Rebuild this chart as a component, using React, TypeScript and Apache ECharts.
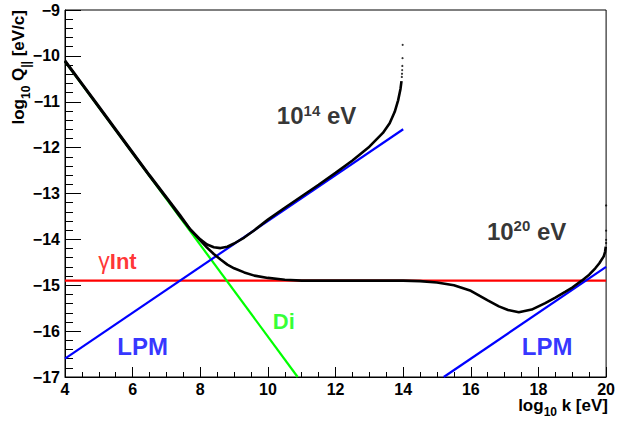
import React, { useEffect, useRef } from 'react';
import * as echarts from 'echarts';

// Axis ranges
const xMin = 4;
const xMax = 20;
const xStep = 2;
const yMin = -17;
const yMax = -9;
const yStep = 1;

// gamma interaction level (red)
const gammaInt: [number, number][] = [[4, -14.9], [20, -14.9]];
// dielectric suppression (green)
const dielectric: [number, number][] = [[4, -10.12], [10.88, -17]];
// LPM lines (blue)
const lpm14: [number, number][] = [[4, -16.6], [14, -11.6]];
const lpm20: [number, number][] = [[15.2, -17], [20, -14.6]];

// total curve, 10^14 eV
const curve14: [number, number][] = [
  [4.0, -10.1], [4.5, -10.6], [5.0, -11.1], [5.5, -11.6], [6.0, -12.1], [6.5, -12.6],
  [7.0, -13.08], [7.4, -13.47], [7.7, -13.78], [8.0, -14.0], [8.2, -14.11], [8.4, -14.17],
  [8.6, -14.19], [8.8, -14.16], [9.0, -14.09], [9.3, -13.96], [9.6, -13.8], [10.0, -13.57],
  [10.5, -13.31], [11.0, -13.06], [11.5, -12.81], [12.0, -12.55], [12.5, -12.28], [13.0, -11.98],
  [13.4, -11.68], [13.6, -11.47], [13.75, -11.22], [13.85, -10.97], [13.92, -10.72], [13.95, -10.55],
];
const dots14: [number, number][] = [
  [13.96, -10.46], [13.965, -10.39], [13.97, -10.31], [13.975, -10.22], [13.98, -10.05], [13.985, -9.76],
];

// total curve, 10^20 eV
const curve20: [number, number][] = [
  [4.0, -10.12], [4.5, -10.62], [5.0, -11.12], [5.5, -11.62], [6.0, -12.12], [6.5, -12.62],
  [7.0, -13.1], [7.4, -13.5], [7.7, -13.78], [8.0, -14.02], [8.2, -14.18], [8.4, -14.32],
  [8.6, -14.44], [8.8, -14.55], [9.0, -14.63], [9.3, -14.72], [9.6, -14.79], [10.0, -14.84],
  [10.5, -14.88], [11.0, -14.9], [12.0, -14.9], [13.0, -14.9], [14.0, -14.9], [14.5, -14.91],
  [15.0, -14.94], [15.5, -15.0], [16.0, -15.12], [16.5, -15.33], [16.83, -15.46], [17.1, -15.54],
  [17.42, -15.59], [17.8, -15.53], [18.2, -15.39], [18.5, -15.27], [18.8, -15.14], [19.0, -15.05],
  [19.28, -14.9], [19.5, -14.77], [19.68, -14.63], [19.8, -14.52], [19.93, -14.37], [19.97, -14.27],
  [19.99, -14.16],
];
const dots20: [number, number][] = [[20.0, -14.08], [20.0, -14.01], [20.0, -13.81], [20.0, -13.26]];

// annotation anchors (left edge, vertical middle) in data coordinates
const label14At: [number, number] = [10.25, -11.31];
const label20At: [number, number] = [16.46, -13.82];
const gammaLabelAt: [number, number] = [4.97, -14.48];
const diLabelAt: [number, number] = [10.13, -15.8];
const lpmLabel1At: [number, number] = [5.53, -16.34];
const lpmLabel2At: [number, number] = [17.49, -16.34];

const energy14 = { base: '10', power: '14', unit: 'eV' };
const energy20 = { base: '10', power: '20', unit: 'eV' };
const gammaText = { sym: 'γ', rest: 'Int' };
const diText = 'Di';
const lpmText = 'LPM';

const xTitle = { a: 'log', sub: '10', b: ' k [eV]' };
const yTitle = { a: 'log', sub: '10', b: ' Q', sub2: '||', c: ' [eV/c]' };

export default function App() {
  const ref = useRef<HTMLDivElement>(null);

  useEffect(() => {
    if (!ref.current) return;
    const chart = echarts.init(ref.current, null, { renderer: 'svg' });
    const font = "'Liberation Sans', Arial, Helvetica, sans-serif";
    const minus = (v: number) => String(v).replace('-', '\u2212');

    const line = (name: string, data: [number, number][], color: string, width: number, z: number) => ({
      type: 'line',
      name,
      data,
      symbol: 'none',
      showSymbol: false,
      lineStyle: { color, width },
      itemStyle: { color },
      z,
      silent: true,
    });

    const dots = (name: string, data: [number, number][]) => ({
      type: 'scatter',
      name,
      data,
      symbol: 'circle',
      symbolSize: 2.2,
      itemStyle: { color: '#000' },
      z: 6,
      silent: true,
    });

    const textLabel = (name: string, at: [number, number], formatter: string, rich: any) => ({
      type: 'scatter',
      name,
      data: [at],
      symbolSize: 1,
      itemStyle: { color: 'rgba(0,0,0,0)' },
      z: 10,
      silent: true,
      label: {
        show: true,
        position: 'right',
        distance: 0,
        formatter,
        rich,
      },
    });

    const bold = (size: number, color: string, lh?: number) => ({
      fontFamily: font,
      fontWeight: 'bold',
      fontSize: size,
      color,
      lineHeight: lh ?? size + 2,
    });

    chart.setOption({
      animation: false,
      grid: {
        left: 65,
        right: 10,
        top: 10,
        bottom: 45,
        show: true,
        borderColor: '#000',
        borderWidth: 1,
        backgroundColor: 'rgba(0,0,0,0)',
      },
      xAxis: {
        type: 'value',
        min: xMin,
        max: xMax,
        interval: xStep,
        axisLine: { show: true, onZero: false, lineStyle: { color: '#000', width: 1 } },
        axisTick: { show: true, inside: true, length: 10, lineStyle: { color: '#000', width: 1 } },
        minorTick: { show: true, splitNumber: 4, length: 5, lineStyle: { color: '#000', width: 1 } },
        splitLine: { show: false },
        minorSplitLine: { show: false },
        axisLabel: {
          color: '#000',
          fontFamily: font,
          fontWeight: 'bold',
          fontSize: 16,
          lineHeight: 16,
          margin: 4,
          showMinLabel: true,
          showMaxLabel: true,
          formatter: minus,
        },
      },
      yAxis: {
        type: 'value',
        min: yMin,
        max: yMax,
        interval: yStep,
        axisLine: { show: true, onZero: false, lineStyle: { color: '#000', width: 1 } },
        axisTick: { show: true, inside: true, length: 16, lineStyle: { color: '#000', width: 1 } },
        minorTick: { show: true, splitNumber: 5, length: 8, lineStyle: { color: '#000', width: 1 } },
        splitLine: { show: false },
        minorSplitLine: { show: false },
        axisLabel: {
          color: '#000',
          fontFamily: font,
          fontWeight: 'bold',
          fontSize: 16,
          margin: 5,
          showMinLabel: true,
          showMaxLabel: true,
          formatter: minus,
        },
      },
      graphic: [
        {
          type: 'text',
          right: 10,
          top: 397,
          silent: true,
          style: {
            text: `{a|${xTitle.a}}{s|${xTitle.sub}}{a|${xTitle.b}}`,
            align: 'right',
            verticalAlign: 'top',
            rich: {
              a: { fontFamily: font, fontWeight: 'bold', fontSize: 17, lineHeight: 24, fill: '#000' },
              s: { fontFamily: font, fontWeight: 'bold', fontSize: 12, lineHeight: 11, verticalAlign: 'bottom', fill: '#000' },
            },
          },
        },
        {
          type: 'text',
          x: 4,
          y: 10,
          rotation: Math.PI / 2,
          silent: true,
          style: {
            text: `{a|${yTitle.a}}{s|${yTitle.sub}}{a|${yTitle.b}}{s|${yTitle.sub2}}{a|${yTitle.c}}`,
            align: 'right',
            verticalAlign: 'top',
            rich: {
              a: { fontFamily: font, fontWeight: 'bold', fontSize: 17, lineHeight: 28, fill: '#000' },
              s: { fontFamily: font, fontWeight: 'bold', fontSize: 12, lineHeight: 12, verticalAlign: 'bottom', fill: '#000' },
            },
          },
        },
      ],
      series: [
        line('gammaInt', gammaInt, '#ff0000', 2.2, 2),
        line('Di', dielectric, '#00ff00', 2.2, 2),
        line('LPM14', lpm14, '#0000ff', 2.2, 3),
        line('LPM20', lpm20, '#0000ff', 2.2, 3),
        line('E14', curve14, '#000000', 2.6, 5),
        line('E20', curve20, '#000000', 2.6, 5),
        dots('E14dots', dots14),
        dots('E20dots', dots20),
        textLabel('lab14', label14At, `{b|${energy14.base}}{s|${energy14.power}}{b| ${energy14.unit}}`, {
          b: bold(24, '#000', 26),
          s: { ...bold(15, '#000', 15), verticalAlign: 'top' },
        }),
        textLabel('lab20', label20At, `{b|${energy20.base}}{s|${energy20.power}}{b| ${energy20.unit}}`, {
          b: bold(24, '#000', 26),
          s: { ...bold(15, '#000', 15), verticalAlign: 'top' },
        }),
        textLabel('labGamma', gammaLabelAt, `{g|${gammaText.sym}}{b|${gammaText.rest}}`, {
          g: { fontFamily: font, fontWeight: 'normal', fontSize: 23, color: '#ff0000', lineHeight: 26 },
          b: bold(22, '#ff0000', 26),
        }),
        textLabel('labDi', diLabelAt, `{b|${diText}}`, { b: bold(22, '#00ff00', 24) }),
        textLabel('labLPM1', lpmLabel1At, `{b|${lpmText}}`, { b: bold(24, '#0000ff', 26) }),
        textLabel('labLPM2', lpmLabel2At, `{b|${lpmText}}`, { b: bold(24, '#0000ff', 26) }),
      ],
    });

    return () => chart.dispose();
  }, []);

  return (
    <div
      ref={ref}
      style={{ position: 'fixed', left: 0, top: 0, width: 618, height: 422, background: '#fff' }}
    />
  );
}
